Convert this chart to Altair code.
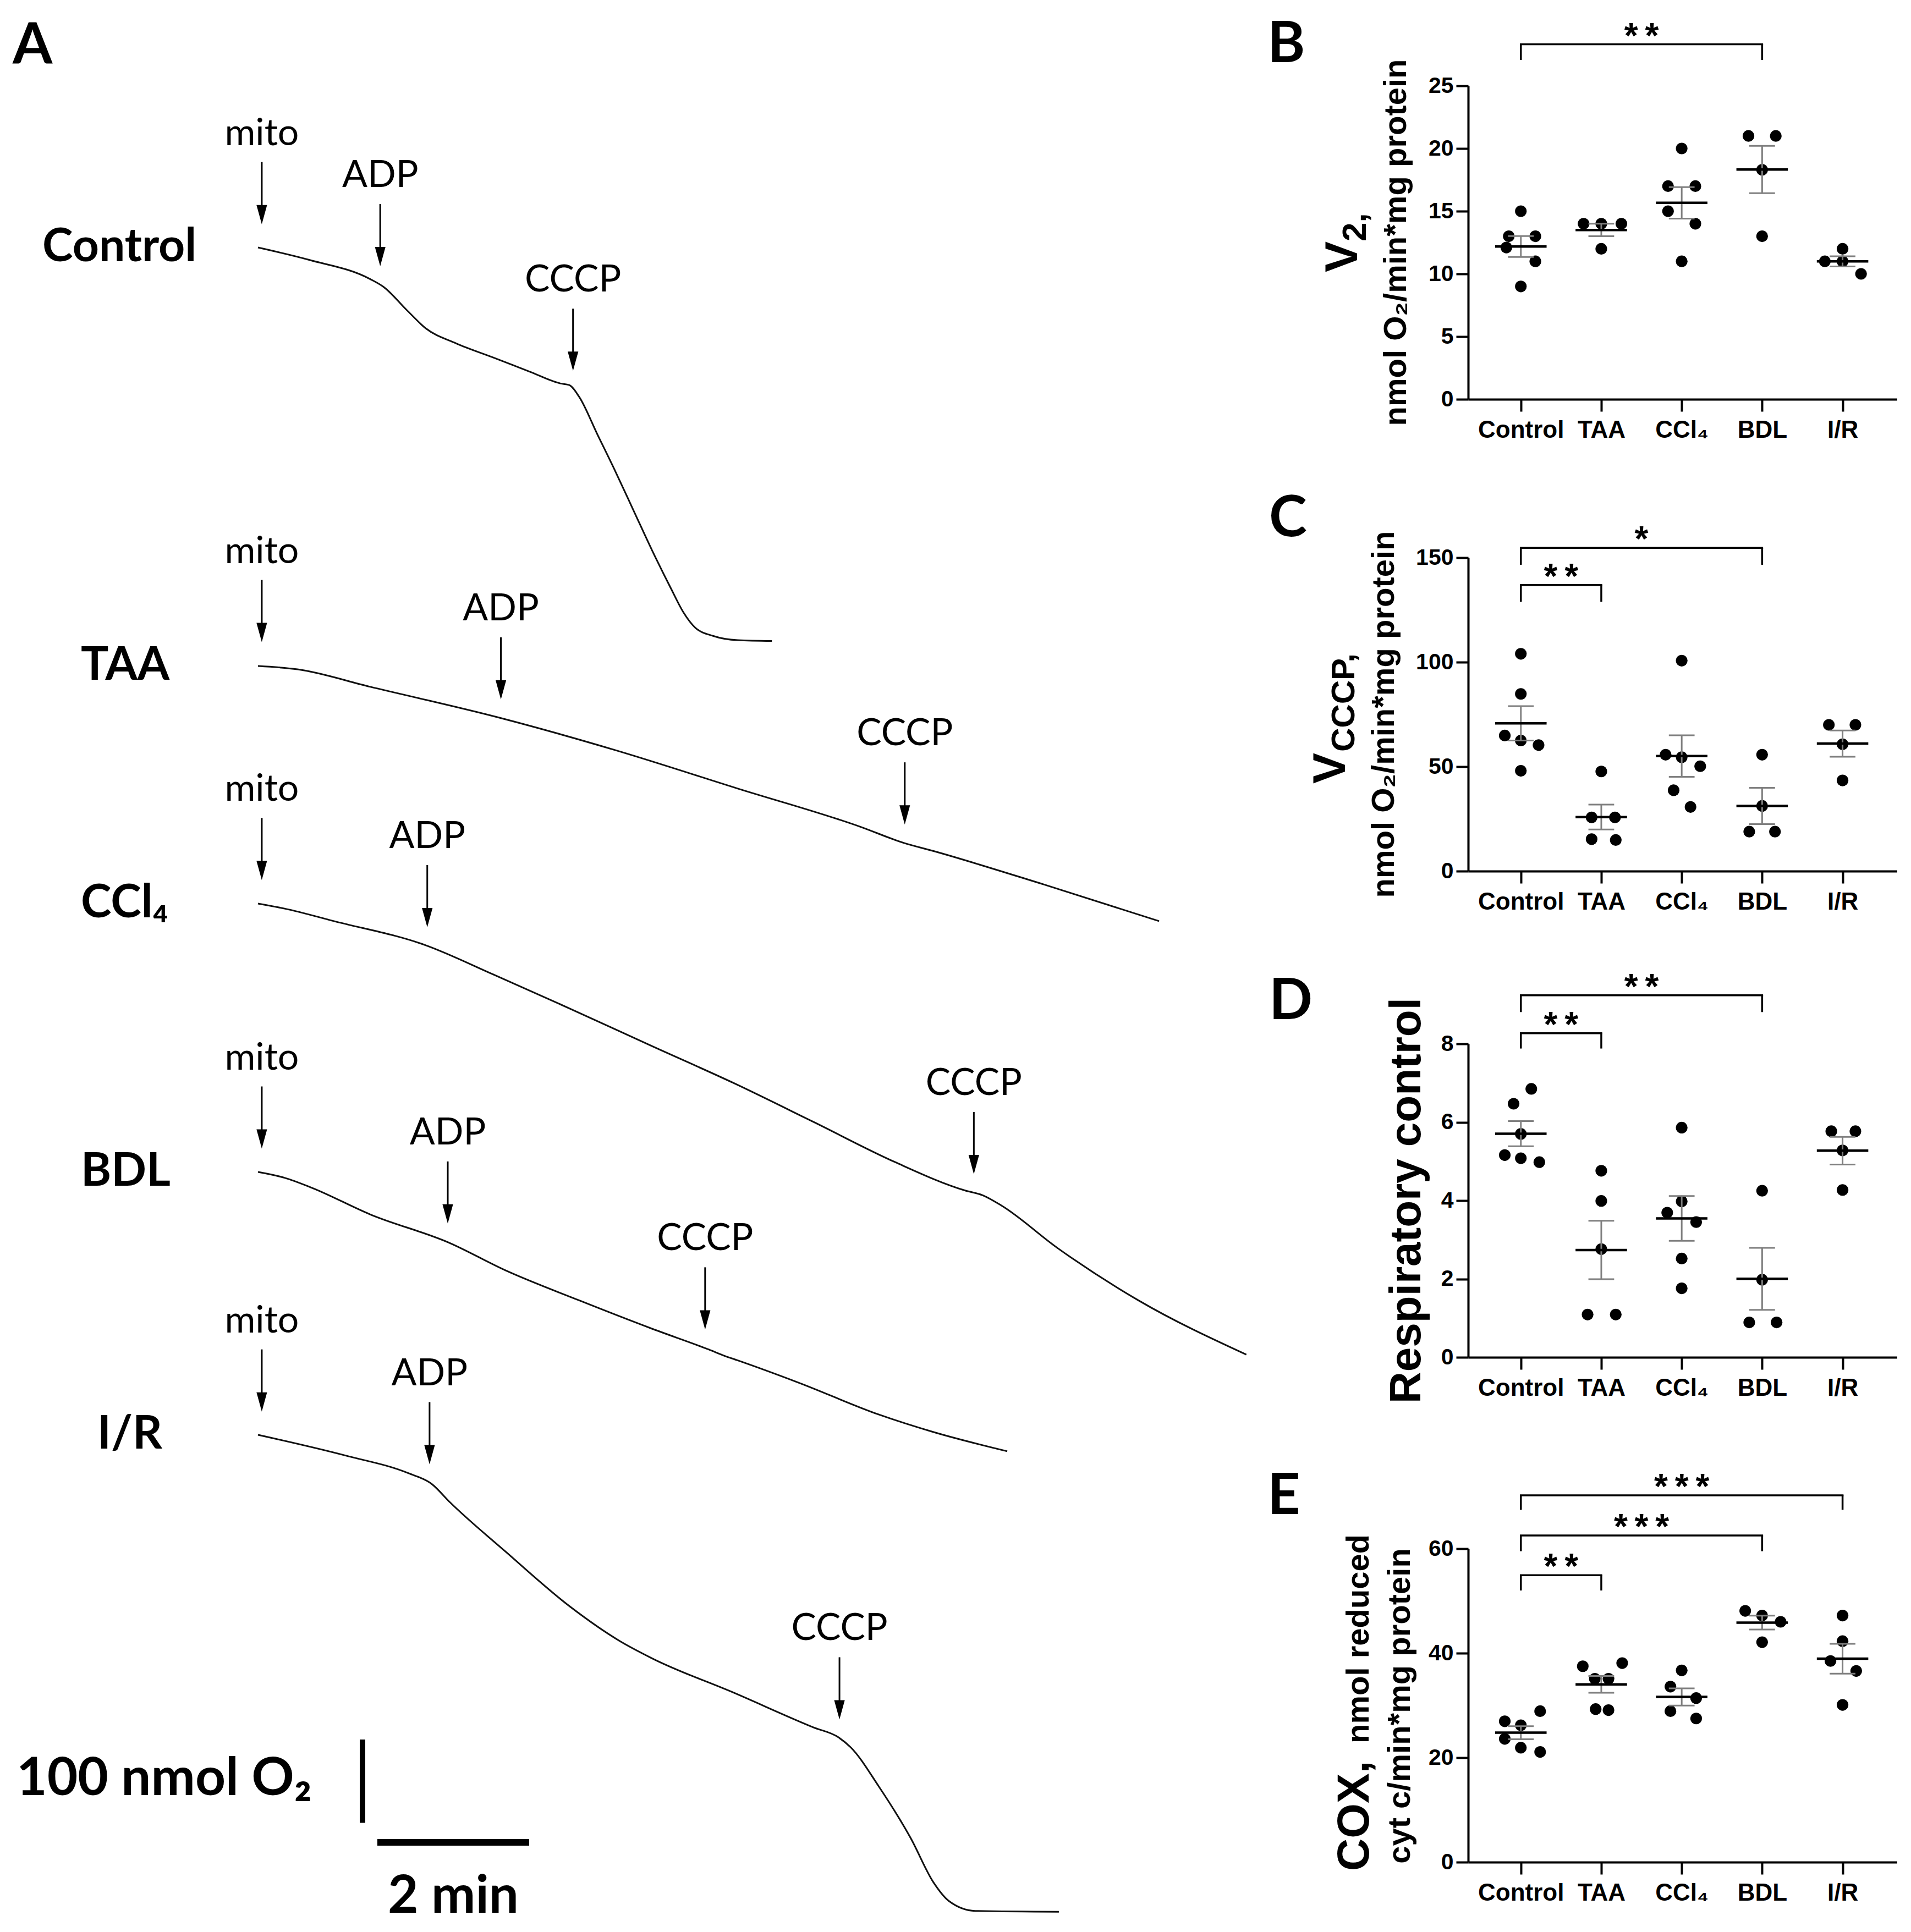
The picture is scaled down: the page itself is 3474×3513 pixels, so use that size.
import json
import altair as alt
import numpy as np
import pandas as pd

ARIAL = "Liberation Sans, Arial, Helvetica, sans-serif"
CALIBRI = "Lato, Carlito, 'Open Sans', sans-serif"
INK = "#000000"
GREY = "#7f7f7f"

# ---------------- Panel A: oxygen traces (time in min, O2 change in nmol) ----------------
trace_names = ["Control", "TAA", "CCl\u2084", "BDL", "I/R"]

control_t = [0, 0.68, 1.48, 1.65, 1.97, 2.21, 2.61, 3.10, 3.58, 3.98, 4.10, 4.23, 4.47, 4.71, 4.95, 5.19, 5.44, 5.60, 5.76, 6.00, 6.32, 6.77]
control_o2 = [0, -15, -38, -47, -76, -97, -115, -132, -149, -163, -165, -179, -224, -269, -316, -363, -409, -437, -456, -466, -471, -472]
taa_t = [0, 0.52, 1.48, 3.18, 4.71, 6.32, 7.94, 8.50, 8.90, 10.35, 11.87]
taa_o2 = [0, -4, -25, -62, -101, -147, -193, -212, -222, -262, -306]
ccl4_t = [0, 0.35, 1.00, 2.21, 3.10, 4.11, 5.19, 6.26, 7.32, 8.39, 9.31, 9.55, 9.79, 10.53, 11.60, 13.02]
ccl4_o2 = [0, -6, -21, -50, -85, -126, -171, -215, -262, -310, -344, -350, -362, -413, -476, -541]
bdl_t = [0, 0.35, 0.71, 1.48, 2.52, 3.26, 4.23, 5.19, 5.94, 6.16, 6.32, 7.13, 8.18, 8.90, 9.87]
bdl_o2 = [0, -7, -19, -51, -85, -118, -154, -188, -213, -221, -226, -253, -291, -312, -335]
ir_t = [0, 1.16, 1.98, 2.29, 2.53, 3.26, 4.11, 4.76, 5.19, 6.26, 7.32, 7.65, 7.81, 8.18, 8.60, 8.90, 9.10, 9.45, 10.55]
ir_o2 = [0, -25, -46, -59, -81, -140, -206, -247, -268, -309, -351, -363, -375, -422, -484, -537, -559, -571, -572]

addition_labels = ["mito", "ADP", "CCCP"]
control_add = [0.05, 1.61, 4.15]
taa_add = [0.05, 3.20, 8.52]
ccl4_add = [0.05, 2.23, 9.43]
bdl_add = [0.05, 2.50, 5.89]
ir_add = [0.05, 2.26, 7.66]

scale_bar_nmol = 100
scale_bar_min = 2

# ---------------- Panels B-E: dot plots ----------------
GROUPS = ["Control", "TAA", "CCl\u2084", "BDL", "I/R"]

b_values = [[15, 13, 13, 12.1, 11, 9], [14, 14, 14, 12], [20, 17, 17, 15, 14, 11], [21, 21, 18.3, 13], [12, 11, 11, 10]]
c_values = [[104, 84.8, 64.9, 62.5, 60.3, 48], [47.7, 25.7, 25.7, 15.3, 14.9], [100.7, 55.7, 54.5, 50.2, 38.7, 30.7], [55.7, 31.2, 18.9, 18.9], [70, 70, 60.7, 43.4]]
d_values = [[6.85, 6.47, 5.70, 5.16, 5.08, 4.98], [4.76, 3.99, 2.76, 1.09, 1.09], [5.86, 3.69, 3.98, 3.45, 2.52, 1.76], [4.25, 1.98, 0.89, 0.89], [5.77, 5.77, 5.28, 4.27]]
e_values = [[26.97, 26.2, 28.9, 23.6, 21.9, 21.1], [37.5, 38.1, 35.1, 35.1, 29.3, 29.1], [36.7, 33.6, 31.4, 28.9, 27.5], [48.1, 47.2, 46.0, 42.1], [47.2, 42.3, 38.5, 36.6, 30.1]]

# significance brackets: (group a, group b, label)
b_sig = [(0, 3, "*\u2009*")]
c_sig = [(0, 3, "*"), (0, 1, "*\u2009*")]
d_sig = [(0, 3, "*\u2009*"), (0, 1, "*\u2009*")]
e_sig = [(0, 4, "*\u2009*\u2009*"), (0, 3, "*\u2009*\u2009*"), (0, 1, "*\u2009*")]

# ---------------- layout (pixels / styling only) ----------------
PX_MIN = 138.0
PX_NMOL = 1.516
A_W, A_H = 2262, 3490
T0_PX = 461


def tx(px):
    return (px - T0_PX) / PX_MIN


def oy(py):
    return -py / PX_NMOL


trace_top_px = [442, 1203, 1635, 2123, 2601]
row_label_px = [69, 139, 139, 139, 169]

# scatter dot horizontal spread (category units)
b_jit = [[0, -0.15, 0.18, -0.18, 0.18, 0], [-0.22, 0, 0.25, 0], [0, -0.17, 0.17, -0.17, 0.17, 0], [-0.17, 0.17, 0, 0], [0, -0.22, 0, 0.23]]
c_jit = [[0, 0, -0.2, 0, 0.22, 0], [0, -0.12, 0.17, -0.12, 0.18], [0, -0.2, 0, 0.23, -0.1, 0.11], [0, 0, -0.16, 0.16], [-0.17, 0.16, 0, 0]]
d_jit = [[0.13, -0.09, 0, -0.2, 0, 0.23], [0, 0, 0, -0.17, 0.18], [0, -0.18, 0, 0.18, 0, 0], [0, 0, -0.16, 0.18], [-0.14, 0.16, 0, 0]]
e_jit = [[-0.2, 0, 0.24, -0.2, 0, 0.24], [-0.23, 0.26, -0.08, 0.09, -0.07, 0.09], [0, -0.14, 0.18, -0.14, 0.18], [-0.21, 0, 0.23, 0], [0, 0, -0.15, 0.17, 0]]

# bracket heights (data units): (line level, leg bottom)
b_br = [(28.31, 27.06)]
c_br = [(154.7, 146.6), (136.9, 128.9)]
d_br = [(9.24, 8.81), (8.27, 7.88)]
e_br = [(70.2, 67.44), (62.53, 59.52), (54.93, 52.0)]

P_W, P_H = 780, 570
X_MIN, X_MAX = -0.655, 4.68

# ================= Panel A =================
xsA = alt.Scale(domain=[tx(0), tx(A_W)], nice=False, zero=False)
ysA = alt.Scale(domain=[oy(A_H), 0], nice=False, zero=False)

all_t = [control_t, taa_t, ccl4_t, bdl_t, ir_t]
all_o2 = [control_o2, taa_o2, ccl4_o2, bdl_o2, ir_o2]
all_add = [control_add, taa_add, ccl4_add, bdl_add, ir_add]

tr_rows, ar_rows, lab_rows = [], [], []
GAP_PX = {"mito": 44, "ADP": 34, "CCCP": 34}
LEN_PX, LGAP_PX = 113, 31
for name, t, o2, top, adds, lpx in zip(trace_names, all_t, all_o2, trace_top_px, all_add, row_label_px):
    base = oy(top)
    for ti, vi in zip(t, o2):
        tr_rows.append({"trace": name, "t": float(ti), "y": float(base + vi)})
    for lab, ta in zip(addition_labels, adds):
        ytr = base + float(np.interp(ta, t, o2))
        tip = ytr + GAP_PX[lab] / PX_NMOL
        top_ = tip + LEN_PX / PX_NMOL
        ar_rows.append({"t": float(ta), "tip": tip, "shaft_end": tip + 12 / PX_NMOL,
                        "top": top_, "ly": top_ + LGAP_PX / PX_NMOL, "label": lab})
    lab_rows.append({"t": tx(lpx), "y": base - 25 / PX_NMOL, "label": name})

tr_df = pd.DataFrame(tr_rows)
ar_df = pd.DataFrame(ar_rows)
lab_df = pd.DataFrame(lab_rows)


def X(f):
    return alt.X(f, scale=xsA, axis=None)


def Y(f):
    return alt.Y(f, scale=ysA, axis=None)


traces = alt.Chart(tr_df).mark_line(color="#111111", strokeWidth=3, interpolate="monotone").encode(
    x=X("t:Q"), y=Y("y:Q"), detail="trace:N")
shafts = alt.Chart(ar_df).mark_rule(color=INK, strokeWidth=3).encode(x=X("t:Q"), y=Y("top:Q"), y2="shaft_end:Q")
heads = alt.Chart(ar_df).mark_point(shape="M-0.55,-2L0.55,-2L0,0Z", size=1225, filled=True,
                                    color=INK, opacity=1, strokeWidth=0).encode(x=X("t:Q"), y=Y("tip:Q"))
ar_text = alt.Chart(ar_df).mark_text(font=CALIBRI, fontSize=68, align="center", baseline="alphabetic",
                                     color=INK).encode(x=X("t:Q"), y=Y("ly:Q"), text="label:N")
row_text = alt.Chart(lab_df).mark_text(font=CALIBRI, fontSize=84, fontWeight="bold", align="left",
                                       baseline="alphabetic", color=INK).encode(x=X("t:Q"), y=Y("y:Q"), text="label:N")

vbar_top = oy(3155)
vbar = alt.Chart(pd.DataFrame({"t": [tx(651)], "y1": [vbar_top], "y2": [vbar_top - scale_bar_nmol]})).mark_rule(
    color=INK, strokeWidth=10).encode(x=X("t:Q"), y=Y("y1:Q"), y2="y2:Q")
hx0 = tx(678)
hbar = alt.Chart(pd.DataFrame({"t1": [hx0], "t2": [hx0 + scale_bar_min], "y": [oy(3342)]})).mark_rule(
    color=INK, strokeWidth=12).encode(x=X("t1:Q"), x2="t2:Q", y=Y("y:Q"))
sb_text1 = alt.Chart(pd.DataFrame({"t": [tx(22)], "y": [oy(3256)], "label": ["100 nmol O\u2082"]})).mark_text(
    font=CALIBRI, fontSize=96, fontWeight="bold", baseline="alphabetic", align="left", color=INK).encode(
    x=X("t:Q"), y=Y("y:Q"), text="label:N")
sb_text2 = alt.Chart(pd.DataFrame({"t": [hx0 + scale_bar_min / 2], "y": [oy(3470)], "label": ["2 min"]})).mark_text(
    font=CALIBRI, fontSize=96, fontWeight="bold", baseline="alphabetic", align="center", color=INK).encode(
    x=X("t:Q"), y=Y("y:Q"), text="label:N")
letterA = alt.Chart(pd.DataFrame({"t": [tx(15)], "y": [oy(107)], "label": ["A"]})).mark_text(
    font=CALIBRI, fontSize=104, fontWeight="bold", baseline="alphabetic", align="left", color=INK).encode(
    x=X("t:Q"), y=Y("y:Q"), text="label:N")

panelA = alt.layer(traces, shafts, heads, ar_text, row_text, vbar, hbar, sb_text1, sb_text2, letterA).properties(
    width=A_W, height=A_H)


# ================= Panels B-E =================
def dot_panel(values, jit, ymax, ystep, sig, br, titles, letter, letter_pos):
    rows = []
    for gi, (vals, js) in enumerate(zip(values, jit)):
        for v, j in zip(vals, js):
            rows.append({"g": gi, "value": float(v), "jit": float(j)})
    df = pd.DataFrame(rows)
    xs = alt.Scale(domain=[X_MIN, X_MAX], nice=False, zero=False)
    ys = alt.Scale(domain=[0, ymax], nice=False, zero=True)
    label_expr = json.dumps(GROUPS, ensure_ascii=False) + "[datum.value]"
    xaxis = alt.Axis(values=list(range(len(GROUPS))), labelExpr=label_expr, title=None, grid=False,
                     domainColor=INK, domainWidth=4, tickColor=INK, tickWidth=4, tickSize=22,
                     labelFont=ARIAL, labelFontSize=44, labelFontWeight="bold", labelColor=INK,
                     labelPadding=12, labelAngle=0, labelFlush=False, labelOverlap=False)
    yaxis = alt.Axis(values=list(range(0, ymax + 1, ystep)), title=None, grid=False, format="d",
                     domainColor=INK, domainWidth=4, tickColor=INK, tickWidth=4, tickSize=22,
                     labelFont=ARIAL, labelFontSize=41, labelFontWeight="bold", labelColor=INK,
                     labelPadding=5, labelFlush=False, labelOverlap=False)

    def XX(f):
        return alt.X(f, scale=xs, axis=xaxis)

    def YY(f):
        return alt.Y(f, scale=ys, axis=yaxis)

    base = alt.Chart(df)
    points = base.transform_calculate(xp="datum.g + datum.jit").mark_circle(
        size=450, color=INK, opacity=1).encode(x=XX("xp:Q"), y=YY("value:Q"))
    stats = base.transform_aggregate(m="mean(value)", se="stderr(value)", groupby=["g"]).transform_calculate(
        lo="datum.m - datum.se", hi="datum.m + datum.se",
        ml="datum.g - 0.32", mr="datum.g + 0.32", cl="datum.g - 0.16", cr="datum.g + 0.16")
    err = stats.mark_rule(color=GREY, strokeWidth=3).encode(x=XX("g:Q"), y=YY("lo:Q"), y2="hi:Q")
    caps = stats.transform_fold(["lo", "hi"], as_=["k", "cv"]).mark_rule(color=GREY, strokeWidth=3).encode(
        x=XX("cl:Q"), x2="cr:Q", y=YY("cv:Q"))
    mean = stats.mark_rule(color=INK, strokeWidth=4.5).encode(x=XX("ml:Q"), x2="mr:Q", y=YY("m:Q"))

    bdf = pd.DataFrame([{"a": a, "b": b, "stars": s, "level": lv, "leg": lg}
                        for (a, b, s), (lv, lg) in zip(sig, br)])
    bb = alt.Chart(bdf)
    hline = bb.mark_rule(color=INK, strokeWidth=3.5, clip=False, strokeCap="square").encode(
        x=XX("a:Q"), x2="b:Q", y=YY("level:Q"))
    legs = bb.transform_fold(["a", "b"], as_=["side", "xv"]).mark_rule(
        color=INK, strokeWidth=3.5, clip=False).encode(x=XX("xv:Q"), y=YY("leg:Q"), y2="level:Q")
    stars = bb.transform_calculate(mid="(datum.a + datum.b) / 2").mark_text(
        font=ARIAL, fontSize=64, fontWeight="bold", baseline="alphabetic", align="center", dy=6,
        color=INK, clip=False).encode(x=XX("mid:Q"), y=YY("level:Q"), text="stars:N")

    layers = [points, err, caps, mean, hline, legs, stars]
    for txt, px, py, size, align in titles:
        layers.append(alt.Chart(pd.DataFrame({"t": [txt]})).mark_text(
            angle=270, align=align, baseline="alphabetic", font=ARIAL, fontWeight="bold",
            fontSize=size, color=INK).encode(x=alt.value(px), y=alt.value(py), text="t:N"))
    layers.append(alt.Chart(pd.DataFrame({"t": [letter]})).mark_text(
        align="left", baseline="alphabetic", font=CALIBRI, fontWeight="bold", fontSize=104,
        color=INK).encode(x=alt.value(letter_pos[0]), y=alt.value(letter_pos[1]), text="t:N"))
    return alt.layer(*layers).properties(width=P_W, height=P_H)


panelB = dot_panel(b_values, b_jit, 25, 5, b_sig, b_br,
                   [("V", -202, 339, 84, "left"),
                    ("2,", -186, 283, 62, "left"),
                    ("nmol O\u2082/min*mg protein", -113, 285, 58, "center")],
                   "B", (-365, -43))
panelC = dot_panel(c_values, c_jit, 150, 50, c_sig, c_br,
                   [("V", -224, 411, 84, "left"),
                    ("CCCP,", -207, 353, 60, "left"),
                    ("nmol O\u2082/min*mg protein", -135, 285, 58, "center")],
                   "C", (-362, -39))
panelD = dot_panel(d_values, d_jit, 8, 2, d_sig, d_br,
                   [("Respiratory control", -87, 285, 80, "center")],
                   "D", (-362, -45))
panelE = dot_panel(e_values, e_jit, 60, 20, e_sig, e_br,
                   [("COX,", -181, 586, 82, "left"),
                    ("nmol reduced", -181, 354, 58, "left"),
                    ("cyt c/min*mg protein", -106, 286, 58, "center")],
                   "E", (-365, -63))


def spacer(h):
    return alt.Chart(pd.DataFrame({"v": [0]})).mark_point(opacity=0).encode(
        x=alt.X("v:Q", axis=None), y=alt.Y("v:Q", axis=None)).properties(width=P_W, height=h)


right = alt.vconcat(spacer(148), panelB, spacer(288), panelC, spacer(314), panelD, spacer(348), panelE,
                    spacing=0, bounds="flush")

chart = alt.hconcat(panelA, right, spacing=399, bounds="flush").properties(
    padding=0, background="white").configure_view(stroke=None)

chart.save("out.html", embed_options={"renderer": "svg", "actions": False})
